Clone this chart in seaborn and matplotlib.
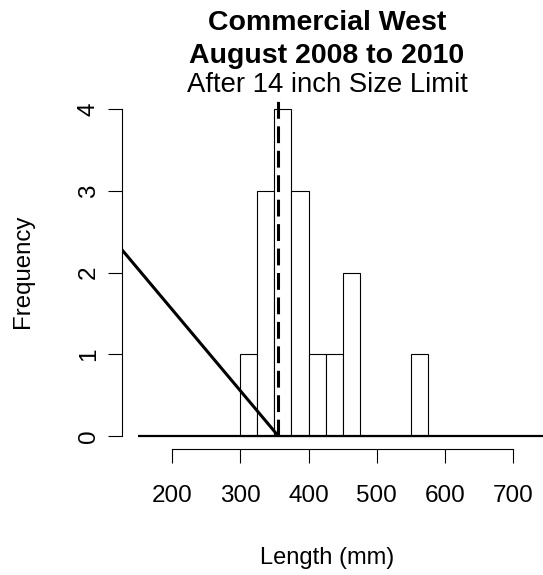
import matplotlib
matplotlib.use("Agg")
import matplotlib.pyplot as plt
import seaborn as sns
import numpy as np

# ---- data ----
bin_edges = [300, 325, 350, 375, 400, 425, 450, 475, 500, 525, 550, 575]
counts = [1, 3, 4, 3, 1, 1, 2, 0, 0, 0, 1]
size_limit_mm = 355.6
trend_x = [126.0, 355.6]
trend_y = [2.28, 0.0]
zero_x = [149.0, 745.0]
x_ticks = [200, 300, 400, 500, 600, 700]
y_ticks = [0, 1, 2, 3, 4]
title_lines = ["Commercial West", "August 2008 to 2010", "After 14 inch Size Limit"]
x_label = "Length (mm)"
y_label = "Frequency"

sns.set_style("white")
plt.rcParams['font.family'] = ['Liberation Sans', 'DejaVu Sans']
plt.rcParams['text.color'] = 'black'

W, H = 543, 575
fig = plt.figure(figsize=(W / 100, H / 100), dpi=100)
L, R, T, B = 122, 532, 96.2, 449
ax = fig.add_axes([L / W, (H - B) / H, (R - L) / W, (B - T) / H])

centers = [(a + b) / 2 for a, b in zip(bin_edges[:-1], bin_edges[1:])]
sns.histplot(x=centers, weights=counts, bins=bin_edges, ax=ax,
             color="white", edgecolor="black", linewidth=0.8, alpha=1.0)

ax.plot(zero_x, [0, 0], color="black", lw=1.6, clip_on=False, solid_capstyle="butt")
ax.plot(trend_x, trend_y, color="black", lw=2.2, solid_capstyle="butt")
ax.plot([size_limit_mm, size_limit_mm], [0, 4.1], color="black", lw=2.2,
        linestyle=(0, (5.5, 2.5)))

ax.set_xlim(126.1, 728.2)
ax.set_ylim(-0.16, 4.16)
for s in ["top", "right"]:
    ax.spines[s].set_visible(False)
ax.spines["bottom"].set_bounds(200, 700)
ax.spines["left"].set_bounds(0, 4)
for s in ["bottom", "left"]:
    ax.spines[s].set_linewidth(0.8)
    ax.spines[s].set_color("black")

ax.set_xticks(x_ticks)
ax.set_yticks(y_ticks)
ax.set_xticklabels([str(v) for v in x_ticks])
ax.set_yticklabels([str(v) for v in y_ticks], rotation=90, va="center")
ax.tick_params(axis="both", direction="out", length=10, width=0.8, color="black",
               labelsize=17.5, labelcolor="black", bottom=True, left=True)
ax.tick_params(axis="x", pad=16)
ax.tick_params(axis="y", pad=6)
ax.set_xlabel("")
ax.set_ylabel("")

fig.text(23 / W, 1 - 271 / H, y_label, rotation=90, ha="center", va="center",
         fontsize=17.3, color="black")
fig.text(327 / W, 1 - 558 / H, x_label, ha="center", va="center",
         fontsize=17, color="black")

fig.text(327 / W, 1 - 30 / H, title_lines[0], ha="center", va="baseline",
         fontsize=20.5, fontweight="bold", color="black")
fig.text(327 / W, 1 - 63 / H, title_lines[1], ha="center", va="baseline",
         fontsize=20.5, fontweight="bold", color="black")
fig.text(327 / W, 1 - 92 / H, title_lines[2], ha="center", va="baseline",
         fontsize=19.8, color="black")

fig.savefig("out.png", dpi=100)
